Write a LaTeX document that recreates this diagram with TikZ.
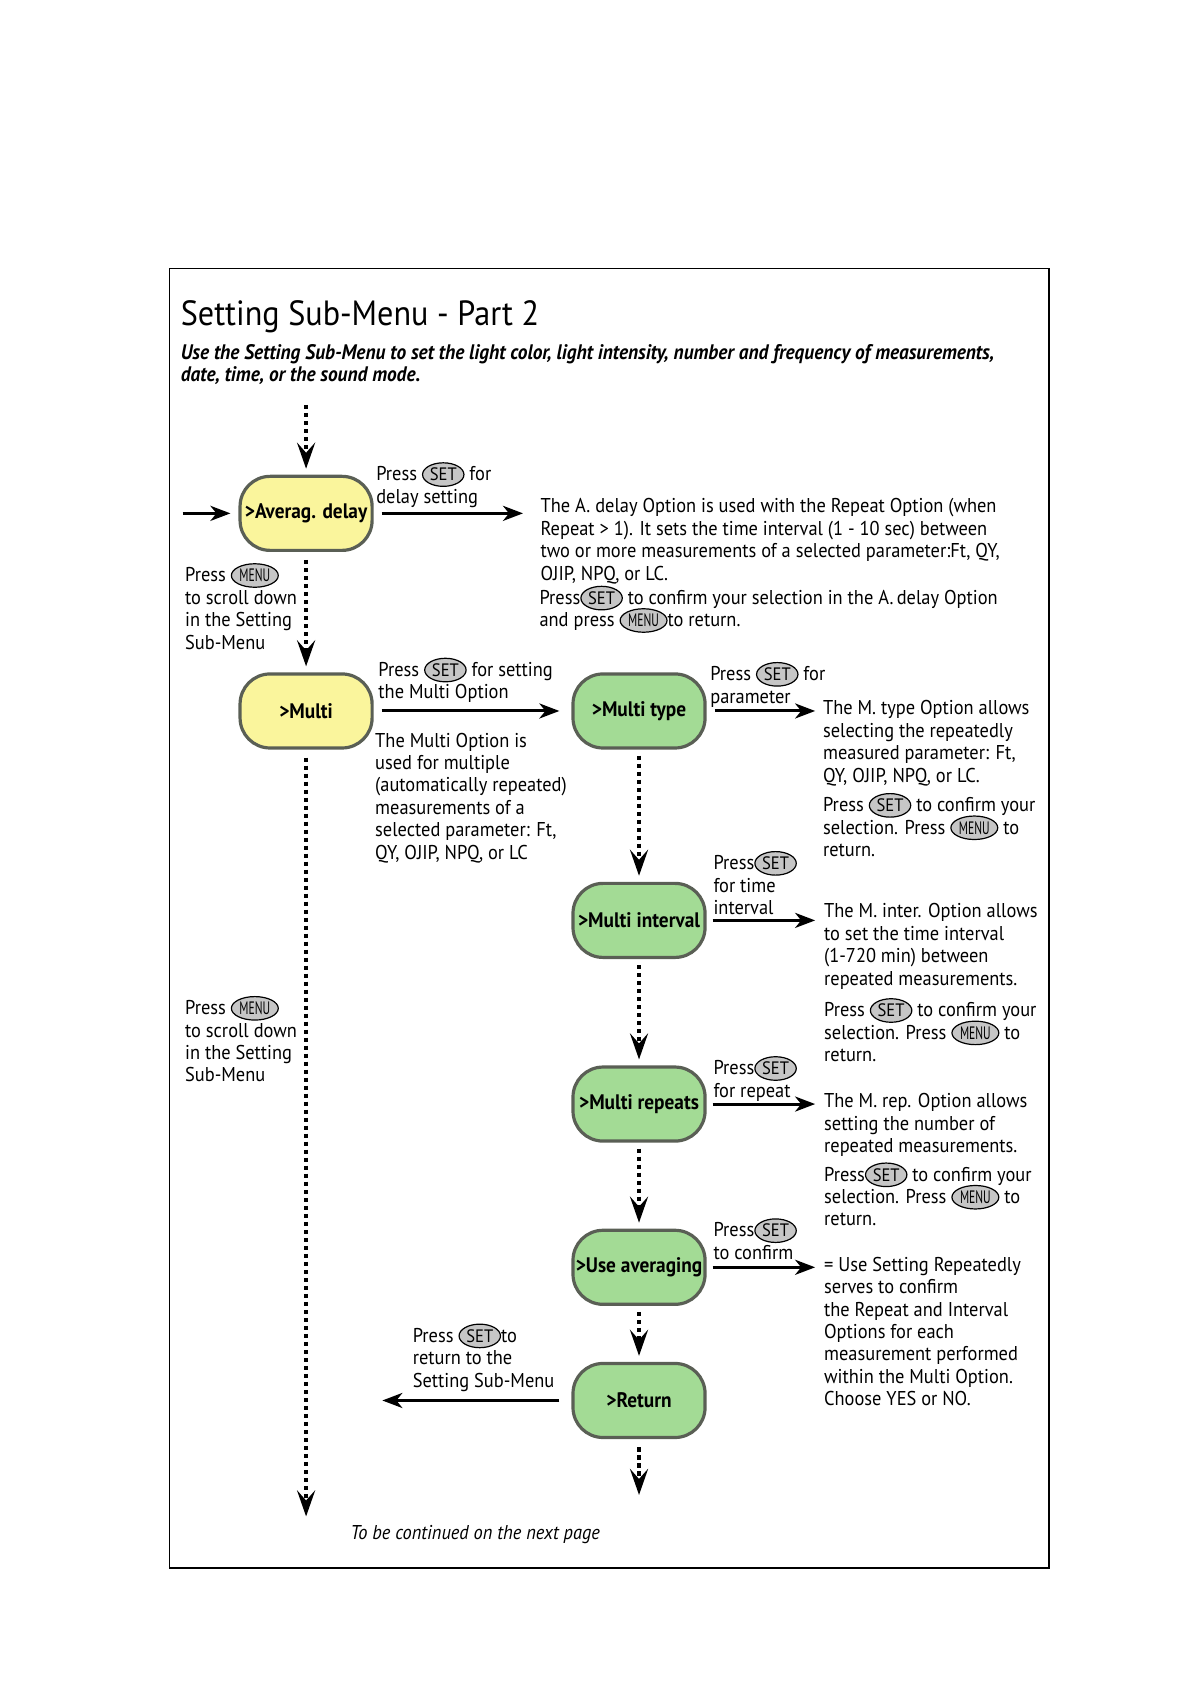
\documentclass[tikz,border=0pt]{standalone}
\usepackage{fontspec}
\setmainfont{PT Sans}[FakeStretch=0.92]
\usepackage{graphicx}
\usetikzlibrary{arrows.meta,shapes.geometric,positioning}

\definecolor{optyellow}{HTML}{FAF59C}
\definecolor{optgreen}{HTML}{A3DB95}
\definecolor{optedge}{HTML}{5A5F55}
\definecolor{keygray}{HTML}{C6C6C6}

\lineskiplimit=-10pt

\tikzset{
  key/.style={ellipse, draw=black, fill=keygray, line width=0.6pt,
              anchor=center, inner xsep=0.6pt, inner ysep=0.9pt,
              font=\fontsize{9}{9}\selectfont},
}
\newcommand{\setkey}{\tikz[baseline=(k.base)]\node[key](k){SET};}
\newcommand{\menukey}{\tikz[baseline=(k.base)]\node[key](k){\scalebox{0.7}[1]{MENU}};}

\begin{document}
\begin{tikzpicture}[x=0.5368pt,
            y=-0.5368pt,
            font=\fontsize{10}{11.2}\selectfont,
            option/.style={rectangle,
                           rounded corners=15pt,
                           draw=optedge,
                           line width=1.6pt,
                           minimum width=66pt,
                           minimum height=37pt,
                           inner sep=1pt,
                           font=\fontsize{10.5}{11.2}\selectfont\bfseries},
            note/.style={anchor=north west, align=left, inner sep=0pt},
            flow/.style={line width=1.5pt,
                         -{Stealth[length=10pt,width=7.5pt,inset=3pt]}},
            scroll/.style={line width=2.3pt,
                           dash pattern=on 2.2pt off 1.8pt,
                           -{Stealth[length=13pt,width=9pt,inset=5pt]}}]

        \useasboundingbox (0,0) rectangle (1109,1568);
        \draw[line width=0.8pt] (158,250) rectangle (977,1460);

        \node[anchor=base west, inner sep=0pt,
              font=\fontsize{17.5}{20}\selectfont] (title) at (168,303)
              {Setting Sub-Menu - Part 2};
        \node[note, font=\fontsize{10.5}{11}\selectfont\bfseries\itshape] (intro) at (168,320)
              {Use the Setting Sub-Menu to set the light color, light intensity, number and frequency of measurements,\\
               date, time, or the sound mode.};

        \node[option, fill=optyellow] (avg)    at (285,478)  {>Averag. delay};
        \node[option, fill=optyellow] (multi)  at (285,662)  {>Multi};
        \node[option, fill=optgreen]  (mtype)  at (595,662)  {>Multi type};
        \node[option, fill=optgreen]  (minter) at (595,857)  {>Multi interval};
        \node[option, fill=optgreen]  (mrep)   at (595,1028) {>Multi repeats};
        \node[option, fill=optgreen]  (useavg) at (595,1180) {>Use averaging};
        \node[option, fill=optgreen]  (ret)    at (595,1304) {>Return};

        \coordinate (intop)   at (285,377);
        \coordinate (inleft)  at (170,478);
        \coordinate (avgout)  at (487,478);
        \coordinate (multiend) at (285,1412);
        \coordinate (mtypeout) at (759,662);
        \coordinate (minterout) at (759,857);
        \coordinate (mrepout) at (759,1028);
        \coordinate (useavgout) at (759,1180);
        \coordinate (retout)  at (356,1304);
        \coordinate (retend)  at (595,1392);

        \draw[scroll, shorten >=3pt] (intop) -- (avg);
        \draw[flow, shorten >=4pt] (inleft) -- (avg);
        \draw[flow, shorten <=4pt] (avg) -- (avgout);
        \draw[scroll, shorten <=4pt, shorten >=3pt] (avg) -- (multi);
        \draw[flow, shorten <=4pt, shorten >=6pt] (multi) -- (mtype);
        \draw[scroll, shorten <=4pt] (multi) -- (multiend);
        \draw[flow, shorten <=4pt] (mtype) -- (mtypeout);
        \draw[scroll, shorten <=3pt, shorten >=3pt] (mtype) -- (minter);
        \draw[flow, shorten <=3pt] (minter) -- (minterout);
        \draw[scroll, shorten <=3pt, shorten >=3pt] (minter) -- (mrep);
        \draw[flow, shorten <=3pt] (mrep) -- (mrepout);
        \draw[scroll, shorten <=3pt, shorten >=3pt] (mrep) -- (useavg);
        \draw[flow, shorten <=3pt] (useavg) -- (useavgout);
        \draw[scroll, shorten <=3pt, shorten >=3pt] (useavg) -- (ret);
        \draw[flow, shorten <=6pt] (ret) -- (retout);
        \draw[scroll, shorten <=4pt] (ret) -- (retend);

        \node[note] (avgkey)  at (350,430) {Press \setkey{} for\\delay setting};
        \node[note] (avgtext) at (503,464)
              {The A. delay Option is used with the Repeat Option (when\\
               Repeat > 1). It sets the time interval (1 - 10 sec) between\\
               two or more measurements of a selected parameter:Ft, QY,\\
               OJIP, NPQ, or LC.};
        \node[note] (avgset)  at (502,545)
              {Press\setkey{} to confirm your selection in the A.\,delay Option\\
               and press \menukey{}to return.};
        \node[note] (scrollA) at (172,524)
              {Press \menukey\\to scroll down\\in the Setting\\Sub-Menu};
        \node[note] (scrollB) at (172,927)
              {Press \menukey\\to scroll down\\in the Setting\\Sub-Menu};

        \node[note] (multikey)  at (352,612) {Press \setkey{} for setting\\the Multi Option};
        \node[note] (multitext) at (349,682)
              {The Multi Option is\\used for multiple\\(automatically repeated)\\
               measurements of a\\selected parameter: Ft,\\QY, OJIP, NPQ, or LC};

        \node[note] (mtypekey)  at (661,616) {Press \setkey{} for\\parameter};
        \node[note] (mtypetext) at (766,652)
              {The M. type Option allows\\selecting the repeatedly\\
               measured parameter: Ft,\\QY, OJIP, NPQ, or LC.};
        \node[note] (mtypeset)  at (766,738)
              {Press \setkey{} to confirm your\\selection. Press \menukey{} to\\return.};

        \node[note] (minterkey)  at (664,792) {Press\setkey\\for time\\interval};
        \node[note] (mintertext) at (767,841)
              {The M. inter. Option allows\\to set the time interval\\
               (1-720 min) between\\repeated measurements.};
        \node[note] (minterset)  at (767,929)
              {Press \setkey{} to confirm your\\selection. Press \menukey{} to\\return.};

        \node[note] (mrepkey)  at (664,983) {Press\setkey\\for repeat};
        \node[note] (mreptext) at (767,1018)
              {The M. rep. Option allows\\setting the number of\\repeated measurements.};
        \node[note] (mrepset)  at (767,1082)
              {Press\setkey{} to confirm your\\selection. Press \menukey{} to\\return.};

        \node[note] (useavgkey)  at (664,1134) {Press\setkey\\to confirm};
        \node[note] (useavgtext) at (767,1170)
              {= Use Setting Repeatedly\\serves to confirm\\the Repeat and Interval\\
               Options for each\\measurement performed\\within the Multi Option.\\
               Choose YES or NO.};

        \node[note] (retkey) at (384,1232)
              {Press \setkey{}to\\return to the\\Setting Sub-Menu};

        \node[note, font=\fontsize{10}{11.2}\selectfont\itshape] (next) at (326,1420)
              {To be continued on the next page};

    \end{tikzpicture}
\end{document}
